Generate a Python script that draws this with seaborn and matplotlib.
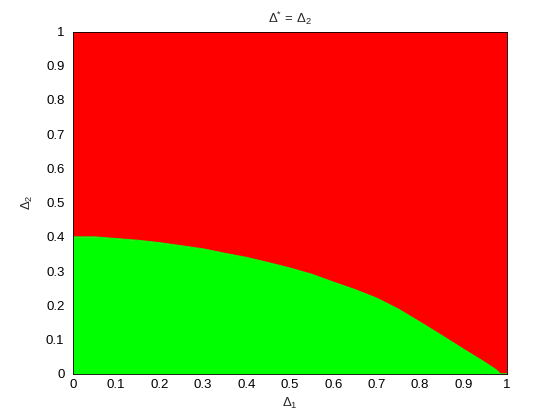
import numpy as np
import pandas as pd
import matplotlib
matplotlib.use("Agg")
import matplotlib.pyplot as plt
import seaborn as sns

# boundary between the two regions
delta1 = [0.0, 0.05, 0.10, 0.15, 0.20, 0.25, 0.30, 0.35, 0.40, 0.45, 0.50,
          0.55, 0.60, 0.65, 0.70, 0.75, 0.80, 0.85, 0.90, 0.95, 0.975, 0.985, 1.0]
delta2_boundary = [0.400, 0.400, 0.395, 0.390, 0.383, 0.374, 0.365, 0.352, 0.340, 0.325, 0.309,
                   0.291, 0.268, 0.246, 0.221, 0.189, 0.151, 0.112, 0.072, 0.033, 0.012, 0.0, 0.0]
tick_values = [0, 0.1, 0.2, 0.3, 0.4, 0.5, 0.6, 0.7, 0.8, 0.9, 1]
tick_labels = ["0", "0.1", "0.2", "0.3", "0.4", "0.5", "0.6", "0.7", "0.8", "0.9", "1"]

sns.set_style("white")
plt.rcParams["font.family"] = ["Liberation Sans", "DejaVu Sans"]
plt.rcParams["mathtext.default"] = "regular"

df = pd.DataFrame({"d1": delta1, "d2": delta2_boundary})

fig = plt.figure(figsize=(5.6, 4.2), dpi=100)
ax = fig.add_axes([0.13, 0.11, 0.775, 0.815])

# red region above the boundary, green below
ax.fill_between(df["d1"], df["d2"], 1, color=(1, 0, 0), linewidth=0)
ax.fill_between(df["d1"], 0, df["d2"], color=(0, 1, 0), linewidth=0)
sns.lineplot(data=df, x="d1", y="d2", ax=ax, color=(0, 1, 0), linewidth=0.8)

ax.set_xlim(0, 1)
ax.set_ylim(0, 1)
ax.set_xticks(tick_values)
ax.set_xticklabels(tick_labels)
ax.set_yticks(tick_values)
ax.set_yticklabels(tick_labels)
ax.set_axisbelow(True)
ax.tick_params(direction="in", length=3, labelsize=9.5, colors="black")
ax.tick_params(axis="y", pad=6)
ax.tick_params(axis="x", pad=4)

for sp in ax.spines.values():
    sp.set_visible(True)
    sp.set_color("black")
    sp.set_linewidth(0.6)
    sp.set_zorder(5)

ax.set_title(r"$\Delta^{*}$ = $\Delta_{2}$", fontsize=9.5, pad=6)
ax.set_xlabel(r"$\Delta_{1}$", fontsize=9.5, labelpad=3)
ax.set_ylabel(r"$\Delta_{2}$", fontsize=9.5, labelpad=8)

fig.savefig("out.png", dpi=100)
